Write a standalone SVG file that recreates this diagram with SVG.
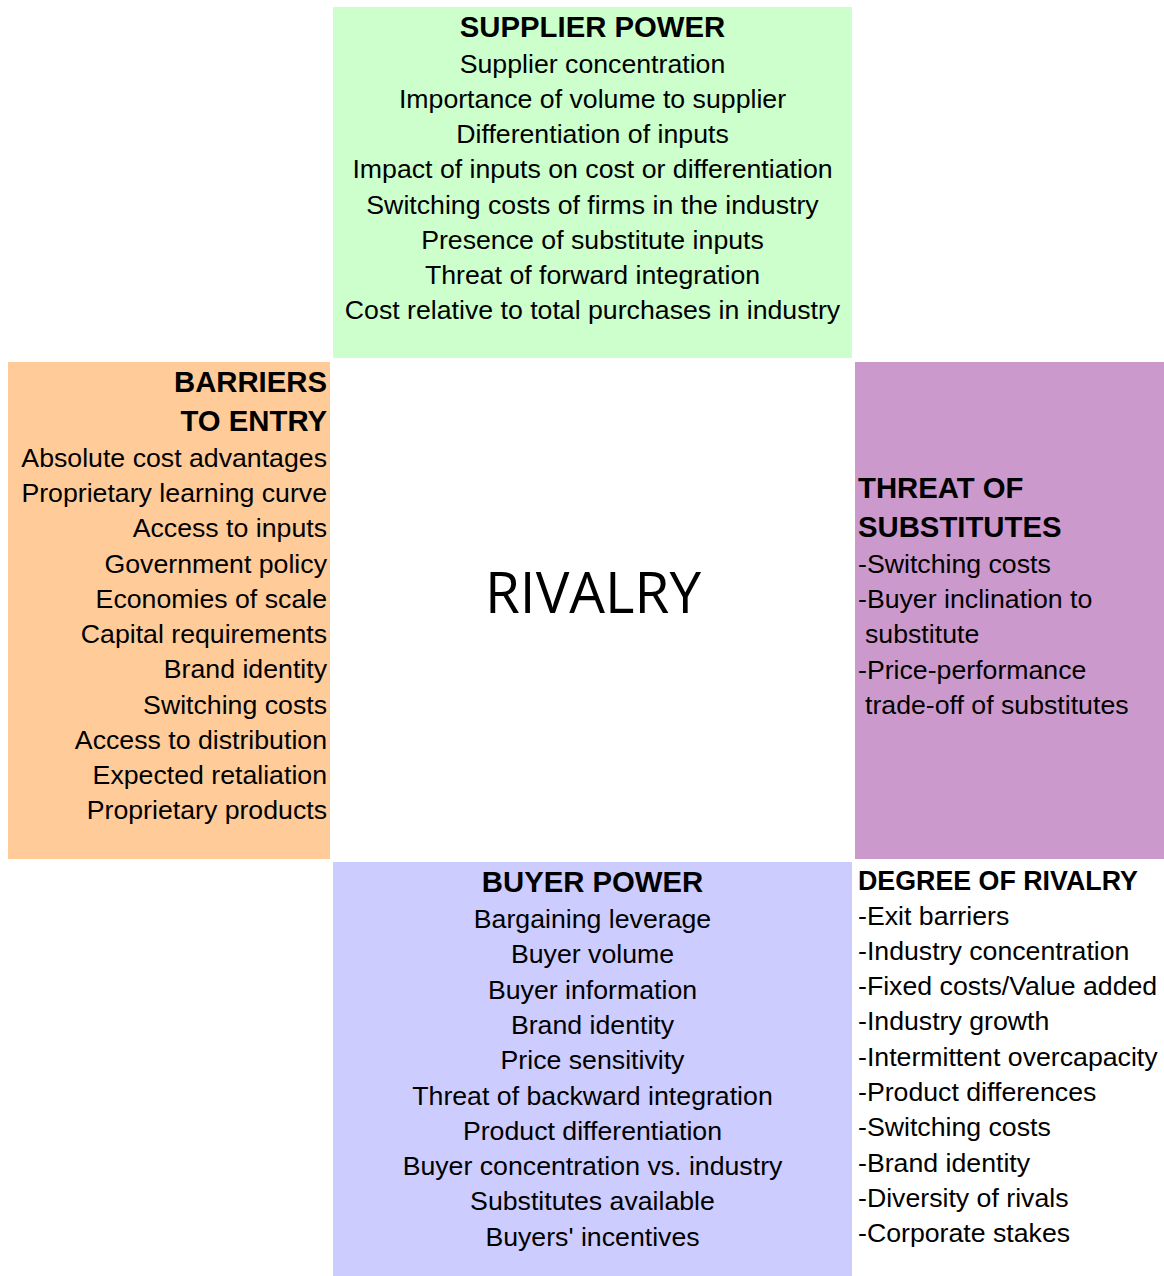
<svg xmlns="http://www.w3.org/2000/svg" width="1164" height="1276" viewBox="0 0 1164 1276">
<style>
text{font-family:"Liberation Sans",Arial,sans-serif;fill:#000;}
.t{font-size:26.7px;}
.h{font-size:29.3px;font-weight:bold;}
.hs{font-size:26.8px;font-weight:bold;}
.c{text-anchor:middle;}
.r{text-anchor:end;}
.big{font-family:"Open Sans","Noto Sans",sans-serif;font-size:56.5px;text-anchor:middle;}
</style>
<rect width="1164" height="1276" fill="#ffffff"/>
<g id="supplier-power">
<rect x="333" y="7" width="519" height="351" fill="#ccffcc"/>
<text class="h c" x="592.5" y="37">SUPPLIER POWER</text>
<text class="t c" x="592.5" y="73">Supplier concentration</text>
<text class="t c" x="592.5" y="108">Importance of volume to supplier</text>
<text class="t c" x="592.5" y="143">Differentiation of inputs</text>
<text class="t c" x="592.5" y="178">Impact of inputs on cost or differentiation</text>
<text class="t c" x="592.5" y="213.5">Switching costs of firms in the industry</text>
<text class="t c" x="592.5" y="248.5">Presence of substitute inputs</text>
<text class="t c" x="592.5" y="283.5">Threat of forward integration</text>
<text class="t c" x="592.5" y="318.5">Cost relative to total purchases in industry</text>
</g>
<g id="barriers-to-entry">
<rect x="8" y="362" width="322" height="497" fill="#ffcc99"/>
<text class="h r" x="327" y="392">BARRIERS</text>
<text class="h r" x="327" y="431">TO ENTRY</text>
<text class="t r" x="327" y="467">Absolute cost advantages</text>
<text class="t r" x="327" y="502.2">Proprietary learning curve</text>
<text class="t r" x="327" y="537.4">Access to inputs</text>
<text class="t r" x="327" y="572.8">Government policy</text>
<text class="t r" x="327" y="608">Economies of scale</text>
<text class="t r" x="327" y="643.2">Capital requirements</text>
<text class="t r" x="327" y="678.4">Brand identity</text>
<text class="t r" x="327" y="713.6">Switching costs</text>
<text class="t r" x="327" y="748.8">Access to distribution</text>
<text class="t r" x="327" y="784">Expected retaliation</text>
<text class="t r" x="327" y="819">Proprietary products</text>
</g>
<g id="rivalry">
<text class="big" x="593" y="613">RIVALRY</text>
</g>
<g id="threat-of-substitutes">
<rect x="855" y="362" width="309" height="497" fill="#cc99cc"/>
<text class="h" x="858" y="497.5">THREAT OF</text>
<text class="h" x="858" y="536.5">SUBSTITUTES</text>
<text class="t" x="858" y="573">-Switching costs</text>
<text class="t" x="858" y="608.2">-Buyer inclination to</text>
<text class="t" x="865" y="643.4">substitute</text>
<text class="t" x="858" y="678.6">-Price-performance</text>
<text class="t" x="865" y="713.8">trade-off of substitutes</text>
</g>
<g id="buyer-power">
<rect x="333" y="862" width="519" height="414" fill="#ccccff"/>
<text class="h c" x="592.5" y="892">BUYER POWER</text>
<text class="t c" x="592.5" y="928">Bargaining leverage</text>
<text class="t c" x="592.5" y="963.2">Buyer volume</text>
<text class="t c" x="592.5" y="998.6">Buyer information</text>
<text class="t c" x="592.5" y="1033.8">Brand identity</text>
<text class="t c" x="592.5" y="1069">Price sensitivity</text>
<text class="t c" x="592.5" y="1104.5">Threat of backward integration</text>
<text class="t c" x="592.5" y="1139.7">Product differentiation</text>
<text class="t c" x="592.5" y="1175">Buyer concentration vs. industry</text>
<text class="t c" x="592.5" y="1210.2">Substitutes available</text>
<text class="t c" x="592.5" y="1245.5">Buyers' incentives</text>
</g>
<g id="degree-of-rivalry">
<text class="hs" x="858" y="890">DEGREE OF RIVALRY</text>
<text class="t" x="858" y="924.5">-Exit barriers</text>
<text class="t" x="858" y="959.8">-Industry concentration</text>
<text class="t" x="858" y="995.1">-Fixed costs/Value added</text>
<text class="t" x="858" y="1030.4">-Industry growth</text>
<text class="t" x="858" y="1065.7">-Intermittent overcapacity</text>
<text class="t" x="858" y="1101">-Product differences</text>
<text class="t" x="858" y="1136.3">-Switching costs</text>
<text class="t" x="858" y="1171.6">-Brand identity</text>
<text class="t" x="858" y="1206.9">-Diversity of rivals</text>
<text class="t" x="858" y="1242.2">-Corporate stakes</text>
</g>
<g id="connectors"></g>
</svg>
